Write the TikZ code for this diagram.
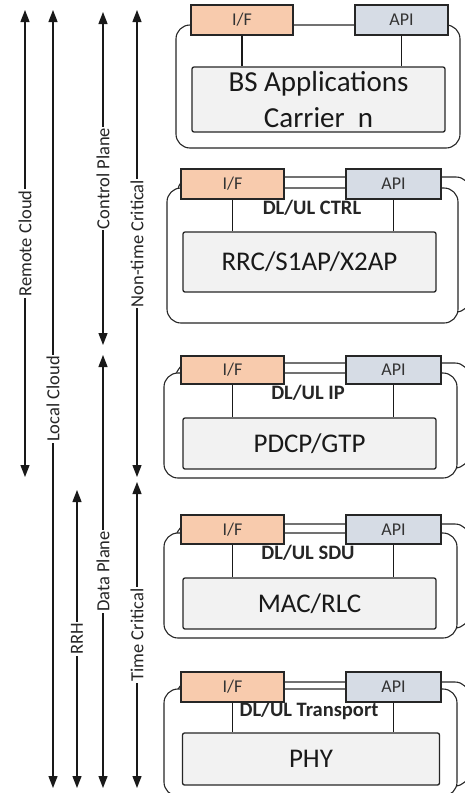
\documentclass[tikz,border=0pt]{standalone}
\usepackage{fontspec}
\setmainfont{Carlito}
\usetikzlibrary{arrows.meta}
\definecolor{ifcolor}{HTML}{F8CBAD}
\definecolor{apicolor}{HTML}{D6DCE5}
\definecolor{layercolor}{HTML}{F2F2F2}

\begin{document}
\begin{tikzpicture}[
        x=1pt, y=-1pt,
        carrierframe/.style={draw=black!85, fill=white, line width=1.1pt, rounded corners=14pt},
        iface/.style={draw=black!85, fill=ifcolor, line width=1.3pt, minimum width=103pt, minimum height=30pt, inner sep=0pt, text=black!80, font=\fontsize{18}{20}\selectfont},
        apibox/.style={iface, fill=apicolor, minimum width=95pt},
        layerbox/.style={draw=black!85, fill=layercolor, line width=1.3pt, rounded corners=2pt, minimum width=253pt, inner sep=0pt, text=black!90, font=\fontsize{27}{36}\selectfont, align=center},
        flow/.style={inner sep=0pt, text=black!85, font=\bfseries\fontsize{20.5}{22}\selectfont},
        link/.style={line width=1.2pt, draw=black!90},
        spanarrow/.style={<->, >={Triangle[length=12pt,width=9pt]}, line width=1.3pt, draw=black!90},
        spanlabel/.style={midway, rotate=90, fill=white, inner sep=1pt, text=black!85, font=\fontsize{18.5}{20}\selectfont}
    ]
        \useasboundingbox (0,0) rectangle (465,793);
        \clip (0,0) rectangle (465,793);

        % --- Ranges on the left ---
        \coordinate (rcT) at (25,10);   \coordinate (rcB) at (25,477);
        \coordinate (lcT) at (53,10);   \coordinate (lcB) at (53,788);
        \coordinate (rrhT) at (77,490); \coordinate (rrhB) at (77,788);
        \coordinate (cpT) at (103,12);  \coordinate (cpB) at (103,345);
        \coordinate (dpT) at (103,355); \coordinate (dpB) at (103,788);
        \coordinate (ntT) at (137,10);  \coordinate (ntB) at (137,477);
        \coordinate (tcT) at (137,482); \coordinate (tcB) at (137,788);

        \draw[spanarrow] (rcT) -- node[spanlabel] {Remote Cloud} (rcB);
        \draw[spanarrow] (lcT) -- node[spanlabel] {Local Cloud} (lcB);
        \draw[spanarrow] (rrhT) -- node[spanlabel] {RRH} (rrhB);
        \draw[spanarrow] (cpT) -- node[spanlabel] {Control Plane} (cpB);
        \draw[spanarrow] (dpT) -- node[spanlabel] {Data Plane} (dpB);
        \draw[spanarrow] (ntT) -- node[spanlabel] {Non-time Critical} (ntB);
        \draw[spanarrow] (tcT) -- node[spanlabel] {Time Critical} (tcB);

        % --- BS applications ---
        \draw[carrierframe] (176,25) rectangle (460,148);
        \node[layerbox, minimum height=65pt, font=\fontsize{29}{36}\selectfont] (app) at (318.5,99.5) {BS Applications\\Carrier~~n};
        \node[iface, minimum width=102pt] (if1) at (242,20) {I/F};
        \node[apibox, minimum width=93pt] (api1) at (401.5,20) {API};
        \draw[link] (if1) -- (if1 |- app.north);
        \draw[link] (api1) -- (api1 |- app.north);

        % --- RRC/S1AP/X2AP ---
        \draw[carrierframe] (178,177) rectangle (470,312); % back copy
        \draw[carrierframe] (167,188) rectangle (458,323);
        \node[layerbox, minimum height=60pt] (rrc) at (309.5,262) {RRC/S1AP/X2AP};
        \node[iface] (if2) at (232.5,184) {I/F};
        \node[apibox] (api2) at (393.5,184) {API};
        \node[flow] (ctrl) at (312,208) {DL/UL CTRL};
        \draw[link] (if2) -- (if2 |- rrc.north);
        \draw[link] (api2) -- (api2 |- rrc.north);

        % --- PDCP/GTP ---
        \draw[carrierframe] (176,363) rectangle (469,468); % back copy
        \draw[carrierframe] (164,373) rectangle (457,478);
        \node[layerbox, minimum height=51pt] (pdcp) at (309.5,443.5) {PDCP/GTP};
        \node[iface, minimum height=28pt] (if3) at (232.5,370) {I/F};
        \node[apibox, minimum height=28pt] (api3) at (393.5,370) {API};
        \node[flow] (ip) at (308,393) {DL/UL IP};
        \draw[link] (if3) -- (if3 |- pdcp.north);
        \draw[link] (api3) -- (api3 |- pdcp.north);

        % --- MAC/RLC ---
        \draw[carrierframe] (176,524) rectangle (469,628); % back copy
        \draw[carrierframe] (164,533) rectangle (457,638);
        \node[layerbox, minimum height=51pt] (mac) at (309.5,603.5) {MAC/RLC};
        \node[iface, minimum height=29pt] (if4) at (232.5,529.5) {I/F};
        \node[apibox, minimum height=29pt] (api4) at (393.5,529.5) {API};
        \node[flow] (sdu) at (308,553) {DL/UL SDU};
        \draw[link] (if4) -- (if4 |- mac.north);
        \draw[link] (api4) -- (api4 |- mac.north);

        % --- PHY ---
        \draw[carrierframe] (176,682) rectangle (469,786); % back copy
        \draw[carrierframe] (164,689) rectangle (457,796);
        \node[layerbox, minimum width=257pt, minimum height=52pt] (phy) at (311,759) {PHY};
        \node[iface] (if5) at (232.5,687) {I/F};
        \node[apibox] (api5) at (393.5,687) {API};
        \node[flow] (transport) at (309,711) {DL/UL Transport};
        \draw[link] (if5) -- (if5 |- phy.north);
        \draw[link] (api5) -- (api5 |- phy.north);

    \end{tikzpicture}
\end{document}
